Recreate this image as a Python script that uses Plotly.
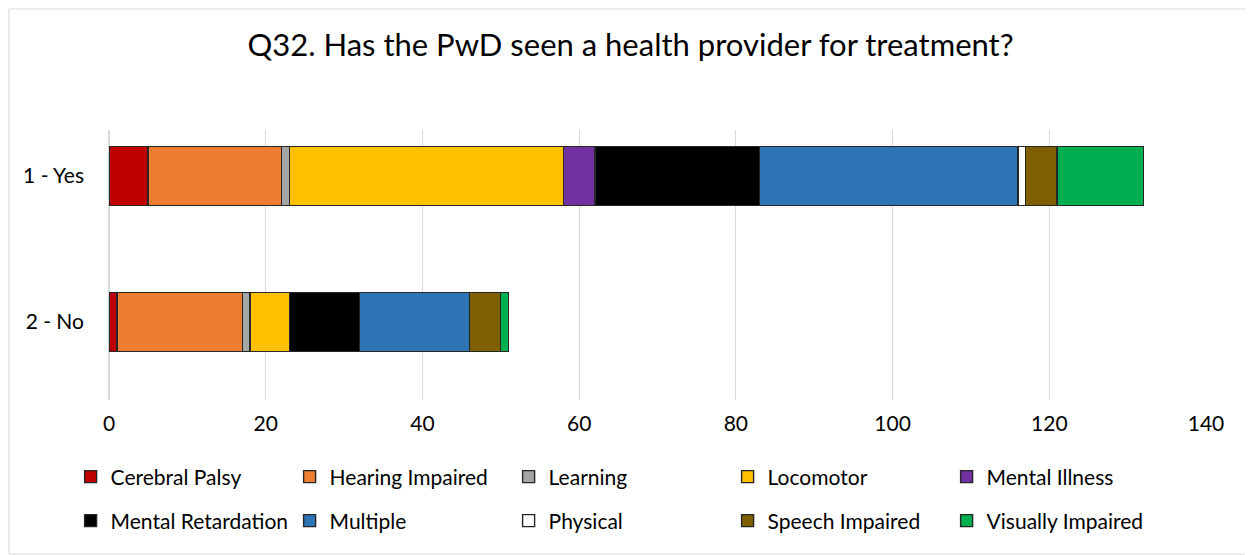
# Q32 stacked horizontal bar chart
import plotly.graph_objects as go

# Data
categories = ["2 - No", "1 - Yes"]
disabilities = ["Cerebral Palsy", "Hearing Impaired", "Learning", "Locomotor",
                "Mental Illness", "Mental Retardation", "Multiple", "Physical",
                "Speech Impaired", "Visually Impaired"]
no_values = [1, 16, 1, 5, 0, 9, 14, 0, 4, 1]
yes_values = [5, 17, 1, 35, 4, 21, 33, 1, 4, 11]
colors = ["#C00000", "#ED7D31", "#A5A5A5", "#FFC000", "#7030A0",
          "#000000", "#2E75B6", "#FFFFFF", "#7F6000", "#00B050"]
x_ticks = [0, 20, 40, 60, 80, 100, 120, 140]

fig = go.Figure()
for i, (name, n, y, c) in enumerate(zip(disabilities, no_values, yes_values, colors)):
    fig.add_trace(go.Bar(
        y=categories, x=[n, y], name=name, orientation="h",
        legend="legend" if i < 5 else "legend2",
        marker=dict(color=c, line=dict(color="#262626", width=1.4)),
    ))

leg_common = dict(orientation="h", x=-0.035, xanchor="left", yanchor="middle",
                  entrywidth=174, entrywidthmode="pixels", traceorder="normal",
                  font=dict(size=21), bgcolor="rgba(0,0,0,0)")

fig.update_layout(
    barmode="stack",
    bargap=0.596,
    width=1245, height=547,
    paper_bgcolor="white", plot_bgcolor="white",
    font=dict(family="Lato, Noto Sans, sans-serif", size=21, color="#000000"),
    title=dict(text="Q32. Has the PwD seen a health provider for treatment?",
               x=0.5, xanchor="center", y=0.932, yanchor="middle",
               font=dict(size=31, color="#000000")),
    margin=dict(l=101, r=47, t=122, b=155, autoexpand=False),
    xaxis=dict(range=[0, 140], tickvals=x_ticks, showgrid=True,
               gridcolor="#D9D9D9", gridwidth=1, zeroline=True,
               zerolinecolor="#D9D9D9", ticks="", showline=False,
               ticklabelstandoff=9, tickfont=dict(size=21)),
    yaxis=dict(range=[-0.534, 1.315], showgrid=False, ticks="",
               ticklabelstandoff=24, tickfont=dict(size=21)),
    legend=dict(y=-0.285, **leg_common),
    legend2=dict(y=-0.448, **leg_common),
    showlegend=True,
    shapes=[dict(type="rect", xref="paper", yref="paper",
                 x0=-100 / 1097, x1=1 + 46 / 1097, y0=-154 / 270, y1=1 + 121 / 270,
                 line=dict(color="#D9D9D9", width=1))],
)

fig.write_html("out.html")
